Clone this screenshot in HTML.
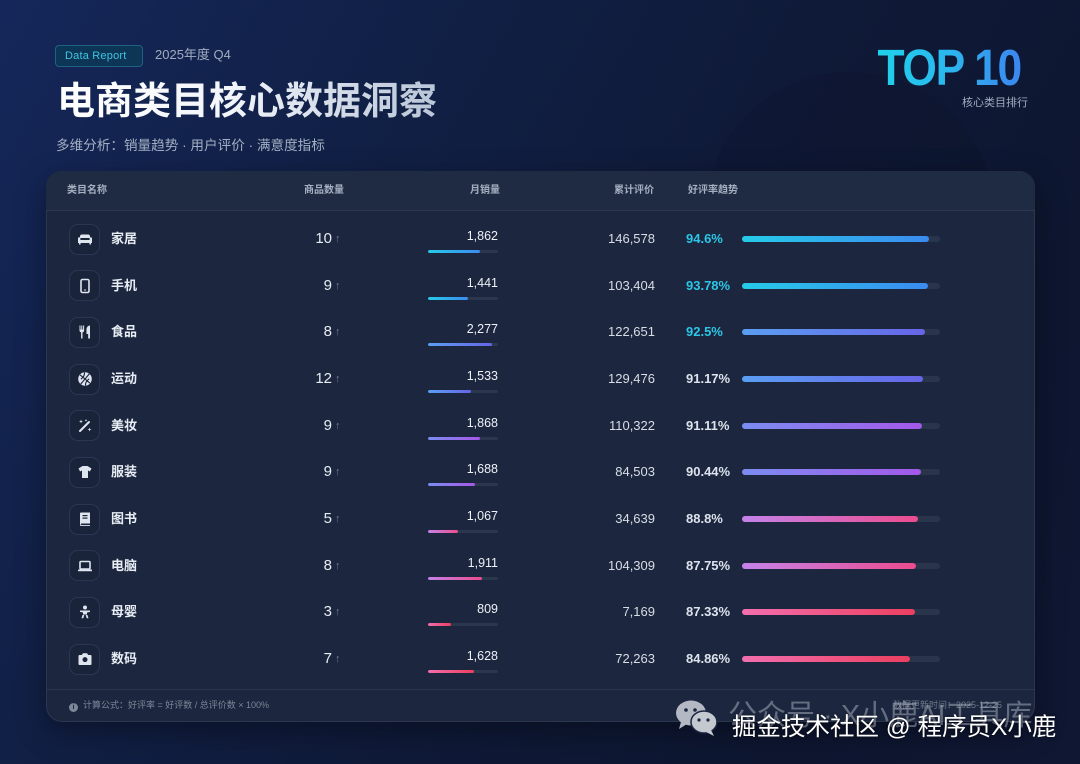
<!DOCTYPE html>
<html><head><meta charset="utf-8">
<style>
*{margin:0;padding:0;box-sizing:border-box}
html,body{width:1080px;height:764px;overflow:hidden}
body{position:relative;font-family:"Liberation Sans","Noto Sans CJK SC",sans-serif;
background:linear-gradient(120deg,#15275a 0%,#112046 28%,#0f1a38 55%,#0e1630 80%,#0f1733 100%);color:#e6ebf2}
.abs{position:absolute}
.badge{left:55px;top:45px;width:88px;height:22px;border-radius:4px;background:#0d3656;border:1px solid #1b6283;color:#3fc3e2;font-size:11px;line-height:20px;padding-left:9px;letter-spacing:.2px}
.yr{left:155px;top:46px;font-size:13px;color:#a0acc0;line-height:18px}
.title{left:57px;top:78px;font-size:38px;font-weight:bold;line-height:48px;white-space:nowrap;
background:linear-gradient(90deg,#ffffff 0%,#f2f5fa 45%,#b9c5d8 100%);-webkit-background-clip:text;background-clip:text;color:transparent}
.sub{left:56px;top:136px;font-size:13.6px;color:#a3afc2;line-height:20px;white-space:nowrap}
.top10{right:59px;top:40px;font-size:51px;font-weight:bold;letter-spacing:-1.5px;line-height:56px;white-space:nowrap;
transform:scaleX(0.87);transform-origin:right center;
background:linear-gradient(90deg,#1fd2ea 0%,#2cb6ee 50%,#3b86f0 100%);-webkit-background-clip:text;background-clip:text;color:transparent}
.topsub{right:52px;top:96px;font-size:11px;color:#a3adc0;line-height:14px}
.card{left:46px;top:171px;width:989px;height:551px;border-radius:16px;background:#1c273f;border:1px solid rgba(255,255,255,0.07);box-shadow:0 10px 30px rgba(0,0,0,0.35)}
.hdr{top:171px;left:46px;width:989px;height:40px;border-radius:16px 16px 0 0;background:#1f2b43;border-bottom:1px solid #2c3850}
.h{top:184px;font-size:10px;font-weight:bold;color:#a6b0c2;line-height:13px;white-space:nowrap}
.row{position:absolute;left:0;width:1080px;height:46px}
.ic{position:absolute;left:69px;top:7.5px;width:31px;height:31px;border-radius:9px;background:#19233a;border:1px solid #2b3750;display:flex;align-items:center;justify-content:center}
.ic svg{width:16px;height:16px}
.nm{position:absolute;left:111px;top:0;line-height:46px;font-size:13px;font-weight:bold;color:#e8edf4}
.cnt{position:absolute;left:270px;width:62px;text-align:right;line-height:46px;font-size:15px;color:#e8edf4}
.ar{position:absolute;left:335px;line-height:46px;top:0px;font-size:11px;color:#6f7a8e}
.sn{position:absolute;left:420px;width:78px;text-align:right;top:12px;line-height:16px;font-size:12.5px;color:#eef2f7}
.sb{position:absolute;left:428px;top:34px;width:70px;height:3px;border-radius:2px;background:#2b374d;overflow:hidden}
.sb i{display:block;height:3px;border-radius:2px}
.rv{position:absolute;left:555px;width:100px;text-align:right;line-height:46px;font-size:13px;color:#d8dde6}
.pc{position:absolute;left:686px;line-height:46px;font-size:13px;font-weight:bold;color:#dde3ec}
.pc.c{color:#2cc6e6}
.rb{position:absolute;left:742px;top:20px;width:198px;height:6px;border-radius:3px;background:#29354b}
.rb i{display:block;height:6px;border-radius:3px}
.g1{background:linear-gradient(90deg,#26cbe8,#3b8bf0)}
.g2{background:linear-gradient(90deg,#5a9ff2,#6765e8)}
.g3{background:linear-gradient(90deg,#7b8df1,#a558e9)}
.g4{background:linear-gradient(90deg,#c483ea,#ec4c8e)}
.g5{background:linear-gradient(90deg,#f26fae,#ec3f5f)}
.fline{left:46px;top:689px;width:989px;height:1px;background:#2a364d}
.ft{left:69px;top:699px;font-size:9px;color:#7c8799;line-height:12px;white-space:nowrap}
.ft2{left:893px;top:699px;font-size:9px;color:#6f7a8c;line-height:12px;white-space:nowrap}
.wm1{left:728px;top:698px;font-size:29px;line-height:36px;color:rgba(190,196,208,0.45);white-space:nowrap}
.wm2{left:732px;top:712px;font-size:24.5px;line-height:32px;color:#ffffff;white-space:nowrap;text-shadow:0 0 3px rgba(0,0,0,0.6)}
</style></head><body>
<div class="abs" style="left:705px;top:72px;width:290px;height:260px;border-radius:145px 145px 0 0;background:rgba(8,12,28,0.12)"></div>

<div class="abs badge">Data Report</div>
<div class="abs yr">2025年度 Q4</div>
<div class="abs title">电商类目核心数据洞察</div>
<div class="abs sub">多维分析：销量趋势 · 用户评价 · 满意度指标</div>
<div class="abs top10">TOP 10</div>
<div class="abs topsub">核心类目排行</div>

<div class="abs card"></div>
<div class="abs hdr"></div>
<div class="abs h" style="left:67px">类目名称</div>
<div class="abs h" style="left:304px">商品数量</div>
<div class="abs h" style="left:470px">月销量</div>
<div class="abs h" style="left:614px">累计评价</div>
<div class="abs h" style="left:688px">好评率趋势</div>

<!-- row 1 -->
<div class="row" style="top:216px">
<div class="ic"><svg viewBox="0 0 16 16"><path fill="#dfe5ee" d="M3 5.5a2 2 0 0 1 2-2h6a2 2 0 0 1 2 2V7H3z"/><path fill="#dfe5ee" d="M1 7.5a1.2 1.2 0 0 1 2.4 0V9h9.2V7.5a1.2 1.2 0 0 1 2.4 0V12H1z"/><rect x="2" y="12" width="1.6" height="1.5" fill="#dfe5ee"/><rect x="12.4" y="12" width="1.6" height="1.5" fill="#dfe5ee"/></svg></div>
<div class="nm">家居</div><div class="cnt">10</div><div class="ar">↑</div>
<div class="sn">1,862</div><div class="sb"><i class="g1" style="width:52px"></i></div>
<div class="rv">146,578</div><div class="pc c">94.6%</div><div class="rb"><i class="g1" style="width:187px"></i></div>
</div>
<!-- row 2 -->
<div class="row" style="top:262.7px">
<div class="ic"><svg viewBox="0 0 16 16"><rect x="4" y="1.5" width="8" height="13" rx="1.5" fill="none" stroke="#dfe5ee" stroke-width="1.6"/><rect x="7" y="11.5" width="2" height="1" fill="#dfe5ee"/></svg></div>
<div class="nm">手机</div><div class="cnt">9</div><div class="ar">↑</div>
<div class="sn">1,441</div><div class="sb"><i class="g1" style="width:40px"></i></div>
<div class="rv">103,404</div><div class="pc c">93.78%</div><div class="rb"><i class="g1" style="width:186px"></i></div>
</div>
<!-- row 3 -->
<div class="row" style="top:309.3px">
<div class="ic"><svg viewBox="0 0 16 16"><path fill="#dfe5ee" d="M2.5 1.5h1v4h.8v-4h1v4h.8v-4h1v5a2 2 0 0 1-1.6 1.9V14.5H4.1V8.4A2 2 0 0 1 2.5 6.5z"/><path fill="#dfe5ee" d="M13 1.5v13h-1.8V10H9.5V5.5c0-2.2 1.6-4 3.5-4z"/></svg></div>
<div class="nm">食品</div><div class="cnt">8</div><div class="ar">↑</div>
<div class="sn">2,277</div><div class="sb"><i class="g2" style="width:64px"></i></div>
<div class="rv">122,651</div><div class="pc c">92.5%</div><div class="rb"><i class="g2" style="width:183px"></i></div>
</div>
<!-- row 4 -->
<div class="row" style="top:356px">
<div class="ic"><svg viewBox="0 0 16 16"><circle cx="8" cy="8" r="6.8" fill="#dfe5ee"/><path d="M1.5 8h13M8 1.3v13.4M3.2 3.3c2 1.5 2.5 4 1.8 7.5M12.8 12.7c-2-1.5-2.5-4-1.8-7.5" stroke="#19233a" stroke-width="1.1" fill="none" transform="rotate(40 8 8)"/></svg></div>
<div class="nm">运动</div><div class="cnt">12</div><div class="ar">↑</div>
<div class="sn">1,533</div><div class="sb"><i class="g2" style="width:43px"></i></div>
<div class="rv">129,476</div><div class="pc">91.17%</div><div class="rb"><i class="g2" style="width:180.5px"></i></div>
</div>
<!-- row 5 -->
<div class="row" style="top:402.7px">
<div class="ic"><svg viewBox="0 0 16 16"><path d="M3 13L12 4" stroke="#dfe5ee" stroke-width="2" stroke-linecap="round"/><path fill="#dfe5ee" d="M4 1.5l.5 1.5 1.5.5-1.5.5L4 5.5 3.5 4 2 3.5l1.5-.5zM12.5 9.5l.5 1.5 1.5.5-1.5.5-.5 1.5-.5-1.5-1.5-.5 1.5-.5zM9 1l.4 1 1 .4-1 .4L9 3.8l-.4-1-1-.4 1-.4z"/></svg></div>
<div class="nm">美妆</div><div class="cnt">9</div><div class="ar">↑</div>
<div class="sn">1,868</div><div class="sb"><i class="g3" style="width:52px"></i></div>
<div class="rv">110,322</div><div class="pc">91.11%</div><div class="rb"><i class="g3" style="width:180.4px"></i></div>
</div>
<!-- row 6 -->
<div class="row" style="top:449.3px">
<div class="ic"><svg viewBox="0 0 16 16"><path fill="#dfe5ee" d="M5.5 2h5l4 2.5-1.6 3-1.9-1V14H5V6.5l-1.9 1-1.6-3z"/></svg></div>
<div class="nm">服装</div><div class="cnt">9</div><div class="ar">↑</div>
<div class="sn">1,688</div><div class="sb"><i class="g3" style="width:47px"></i></div>
<div class="rv">84,503</div><div class="pc">90.44%</div><div class="rb"><i class="g3" style="width:179px"></i></div>
</div>
<!-- row 7 -->
<div class="row" style="top:496px">
<div class="ic"><svg viewBox="0 0 16 16"><path fill="#dfe5ee" d="M3 2.5A1 1 0 0 1 4 1.5h9v11H4.5a.8.8 0 0 0 0 1.6H13V15H4a1 1 0 0 1-1-1z"/><rect x="5.5" y="4" width="5" height="1.2" fill="#19233a"/><rect x="5.5" y="6.5" width="5" height="1.2" fill="#19233a"/></svg></div>
<div class="nm">图书</div><div class="cnt">5</div><div class="ar">↑</div>
<div class="sn">1,067</div><div class="sb"><i class="g4" style="width:30px"></i></div>
<div class="rv">34,639</div><div class="pc">88.8%</div><div class="rb"><i class="g4" style="width:176px"></i></div>
</div>
<!-- row 8 -->
<div class="row" style="top:542.7px">
<div class="ic"><svg viewBox="0 0 16 16"><rect x="3" y="3.5" width="10" height="7.5" rx="1" fill="none" stroke="#dfe5ee" stroke-width="1.6"/><rect x="1" y="11.5" width="14" height="1.8" rx=".6" fill="#dfe5ee"/></svg></div>
<div class="nm">电脑</div><div class="cnt">8</div><div class="ar">↑</div>
<div class="sn">1,911</div><div class="sb"><i class="g4" style="width:53.5px"></i></div>
<div class="rv">104,309</div><div class="pc">87.75%</div><div class="rb"><i class="g4" style="width:174px"></i></div>
</div>
<!-- row 9 -->
<div class="row" style="top:589.3px">
<div class="ic"><svg viewBox="0 0 16 16"><circle cx="8" cy="3.5" r="2" fill="#dfe5ee"/><path fill="#dfe5ee" d="M3 6.5h10v1.4l-3 .6v2H6v-2l-3-.6z"/><path fill="#dfe5ee" d="M5.5 11h1.8l-1 3.2H4.5zM8.7 11h1.8l1 3.2H9.7z"/></svg></div>
<div class="nm">母婴</div><div class="cnt">3</div><div class="ar">↑</div>
<div class="sn">809</div><div class="sb"><i class="g5" style="width:23px"></i></div>
<div class="rv">7,169</div><div class="pc">87.33%</div><div class="rb"><i class="g5" style="width:173px"></i></div>
</div>
<!-- row 10 -->
<div class="row" style="top:636px">
<div class="ic"><svg viewBox="0 0 16 16"><path fill="#dfe5ee" d="M1.5 5a1 1 0 0 1 1-1h2.3l1.2-1.8h4l1.2 1.8h2.3a1 1 0 0 1 1 1v8a1 1 0 0 1-1 1h-11a1 1 0 0 1-1-1z"/><circle cx="8" cy="8.6" r="2.5" fill="#19233a"/></svg></div>
<div class="nm">数码</div><div class="cnt">7</div><div class="ar">↑</div>
<div class="sn">1,628</div><div class="sb"><i class="g5" style="width:45.6px"></i></div>
<div class="rv">72,263</div><div class="pc">84.86%</div><div class="rb"><i class="g5" style="width:168px"></i></div>
</div>

<div class="abs fline"></div>
<div class="abs ft"><span style="display:inline-block;width:9px;height:9px;border-radius:50%;background:#7c8799;color:#1c273f;font-size:7px;line-height:9px;text-align:center;font-weight:bold;margin-right:5px;vertical-align:-1px">i</span>计算公式：好评率 = 好评数 / 总评价数 × 100%</div>
<div class="abs ft2">数据更新时间：2025-12-25</div>

<!-- watermark -->
<svg class="abs" style="left:674px;top:698px" width="46" height="40" viewBox="0 0 46 40">
<ellipse cx="17" cy="15" rx="15" ry="12.5" fill="#b3b8c2"/>
<path d="M7 24 L5 31 L13 26z" fill="#b3b8c2"/>
<ellipse cx="30" cy="24" rx="13" ry="11" fill="#c4c8cf" stroke="#1a2540" stroke-width="1.5"/>
<path d="M37 32 L40 38 L32 34z" fill="#c4c8cf"/>
<circle cx="12" cy="12" r="1.8" fill="#1a2540"/><circle cx="21" cy="12" r="1.8" fill="#1a2540"/>
<circle cx="25" cy="22" r="1.6" fill="#1a2540"/><circle cx="34" cy="22" r="1.6" fill="#1a2540"/>
</svg>
<div class="abs wm1">公众号 · X小鹿AI工具库</div>
<div class="abs wm2">掘金技术社区 @ 程序员X小鹿</div>
</body></html>
